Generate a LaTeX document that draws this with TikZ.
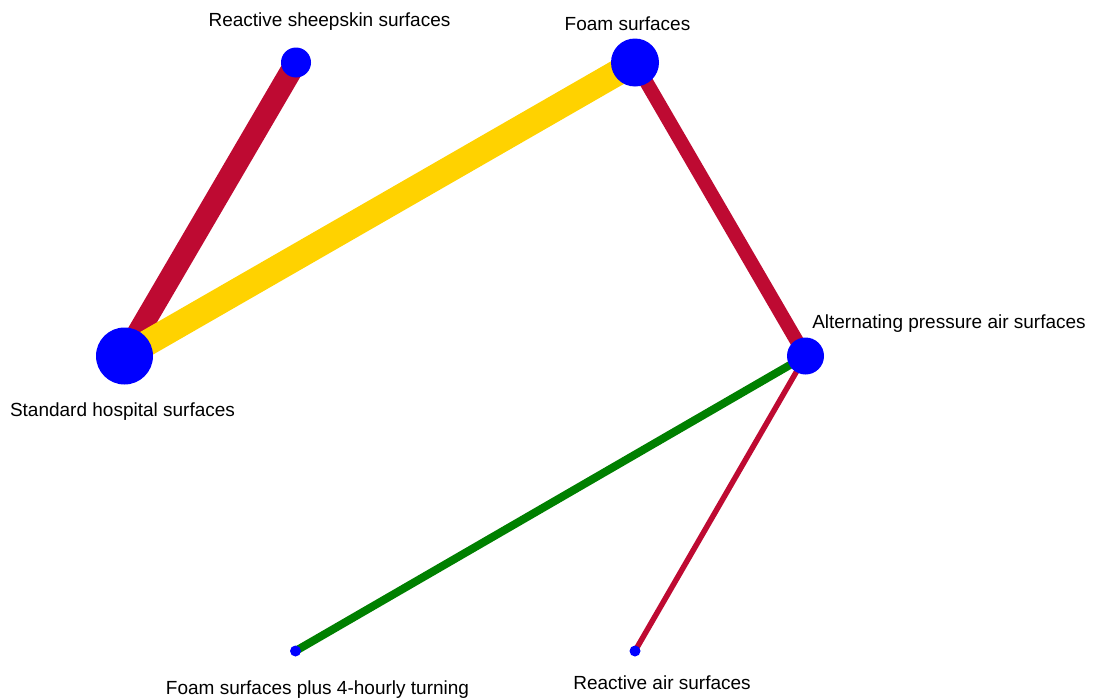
\documentclass[tikz,border=0pt]{standalone}
\usepackage{fontspec}
\setmainfont{Liberation Sans}
\usetikzlibrary{positioning,backgrounds}
\definecolor{crimsonred}{RGB}{190,10,50}
\definecolor{goldyellow}{RGB}{255,210,0}
\definecolor{darkgreen}{RGB}{0,128,0}
\tikzset{
    treat/.style={circle, fill=blue, inner sep=0pt, minimum size=#1},
    tlabel/.style={font=\fontsize{19}{21}\selectfont, inner sep=0pt},
    link/.style={line width=#1}
}

\begin{document}
\begin{tikzpicture}[x=1pt,y=-1pt]
    \useasboundingbox (0,0) rectangle (1096,699);

    % Treatments
    \node[treat=57pt] (std)   at (124.5,356) {};
    \node[treat=30pt] (sheep) at (296,62.5) {};
    \node[treat=48pt] (foam)  at (635,62.5) {};
    \node[treat=37pt] (alt)   at (805.5,356) {};
    \node[treat=11pt] (turn)  at (295.5,651) {};
    \node[treat=11pt] (air)   at (635,651) {};

    % Labels
    \node[tlabel] (stdlab)   at (122.5,412) {Standard hospital surfaces};
    \node[tlabel] (sheeplab) at (329.5,22)  {Reactive sheepskin surfaces};
    \node[tlabel] (foamlab)  at (627.5,24)  {Foam surfaces};
    \node[tlabel] (altlab)   at (949,324)   {Alternating pressure air surfaces};
    \node[tlabel] (turnlab)  at (317.5,690) {Foam surfaces plus 4-hourly turning};
    \node[tlabel] (airlab)   at (662,683)   {Reactive air surfaces};

    % Comparisons
    \begin{scope}[on background layer]
        \draw[link=22pt, crimsonred] (std.center) -- (sheep.center);
        \draw[link=26pt, goldyellow] (std.center) -- (foam.center);
        \draw[link=14pt, crimsonred] (foam.center) -- (alt.center);
        \draw[link=8pt, darkgreen] (alt.center) -- (turn.center);
        \draw[link=5.5pt, crimsonred] (alt.center) -- (air.center);
    \end{scope}
\end{tikzpicture}
\end{document}
